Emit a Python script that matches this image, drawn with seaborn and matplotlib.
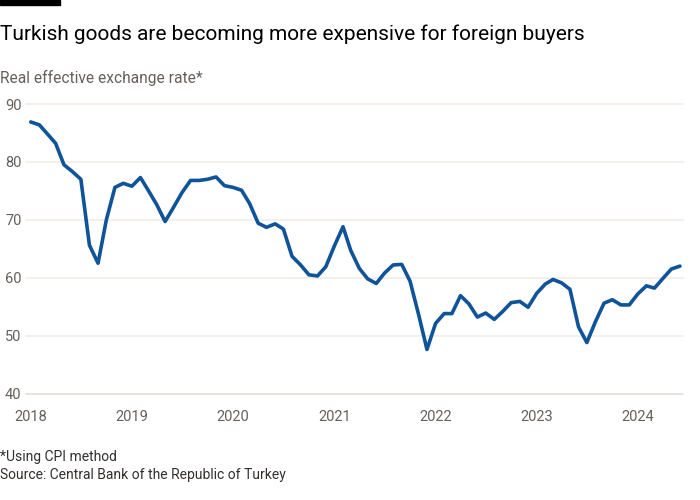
import numpy as np
import pandas as pd
import matplotlib
matplotlib.use("Agg")
import matplotlib.pyplot as plt
import matplotlib.dates as mdates
import seaborn as sns

# ---- data (monthly, Jan 2018 - Jun 2024) ----
start_month = "2018-01-01"
n_months = 78
reer = [
    86.9, 86.4, 84.9, 83.2, 79.5, 78.3, 77.0, 65.6, 62.5, 70.0, 75.6, 76.3,   # 2018
    75.8, 77.3, 75.1, 72.6, 69.7, 72.2, 74.7, 76.8, 76.8, 77.0, 77.4, 75.9,   # 2019
    75.6, 75.1, 72.8, 69.4, 68.7, 69.3, 68.4, 63.7, 62.2, 60.5, 60.3, 61.9,   # 2020
    65.5, 68.8, 64.7, 61.6, 59.8, 59.0, 60.8, 62.2, 62.3, 59.4, 53.6, 47.6,   # 2021
    52.1, 53.8, 53.8, 56.9, 55.5, 53.2, 53.9, 52.8, 54.2, 55.7, 55.9, 54.9,   # 2022
    57.3, 58.9, 59.7, 59.1, 58.0, 51.5, 48.8, 52.4, 55.6, 56.2, 55.3, 55.3,   # 2023
    57.2, 58.6, 58.2, 59.9, 61.5, 62.0,                                       # 2024
]
y_ticks = [40, 50, 60, 70, 80, 90]
year_labels = ["2018", "2019", "2020", "2021", "2022", "2023", "2024"]

title = "Turkish goods are becoming more expensive for foreign buyers"
subtitle = "Real effective exchange rate*"
note = "*Using CPI method"
source = "Source: Central Bank of the Republic of Turkey"

df = pd.DataFrame({
    "date": pd.date_range(start_month, periods=n_months, freq="MS"),
    "reer": reer,
})

sns.set_theme(style="white")
plt.rcParams["font.family"] = ["Roboto", "DejaVu Sans"]

W, H = 700, 500
fig = plt.figure(figsize=(7, 5), dpi=100)
fig.patch.set_facecolor("white")

def px(x0, y0, x1, y1):
    return [x0 / W, 1 - y1 / H, (x1 - x0) / W, (y1 - y0) / H]

ax = fig.add_axes(px(26, 104, 683, 393.5))
ax.set_facecolor("white")

grid_c = "#f2ece6"
tick_c = "#e4dcd5"
label_c = "#66605c"

for v in y_ticks[1:]:
    ax.axhline(v, color=grid_c, lw=1.2, zorder=0)
ax.axhline(y_ticks[0], color=tick_c, lw=1.2, zorder=0)

sns.lineplot(data=df, x="date", y="reer", ax=ax, color="#0f5499",
             linewidth=2.6, zorder=3)
for l in ax.lines:
    l.set_clip_on(False)
    l.set_solid_joinstyle("round")

ax.set_xlim(pd.Timestamp("2017-12-15"), pd.Timestamp("2024-06-12"))
ax.set_ylim(40, 90)

ax.set_yticks(y_ticks)
ax.set_yticklabels([str(v) for v in y_ticks])
year_pos = [pd.Timestamp(f"{y}-01-01") for y in year_labels]
ax.set_xticks(year_pos)
ax.set_xticklabels(year_labels)
ax.xaxis.set_minor_locator(mdates.MonthLocator())

ax.tick_params(axis="y", length=0, pad=4, labelsize=10.5, labelcolor=label_c)
ax.tick_params(axis="x", which="major", length=8, width=1, color=tick_c,
               pad=4, labelsize=10.5, labelcolor=label_c)
ax.tick_params(axis="x", which="minor", length=5, width=1, color=tick_c)
for lab in ax.get_yticklabels():
    lab.set_horizontalalignment("left")
    lab.set_x(-21 / (683 - 26))
ax.tick_params(axis="y", pad=0)

for s in ax.spines.values():
    s.set_visible(False)
ax.set_xlabel("")
ax.set_ylabel("")
ax.grid(False)

# top black bar
fig.patches.append(matplotlib.patches.Rectangle((0, 1 - 5 / H), 60 / W, 5 / H,
                   transform=fig.transFigure, color="black", zorder=5))

fig.text(0 / W, 1 - 40 / H, title, fontsize=15, color="#000000",
         va="baseline", ha="left")
fig.text(0 / W, 1 - 83 / H, subtitle, fontsize=11.2, color=label_c,
         va="baseline", ha="left")
fig.text(0 / W, 1 - 461 / H, note, fontsize=10, color="#33302e",
         va="baseline", ha="left")
fig.text(0 / W, 1 - 479 / H, source, fontsize=10, color="#33302e",
         va="baseline", ha="left")

fig.savefig("out.png", dpi=100, facecolor="white")
